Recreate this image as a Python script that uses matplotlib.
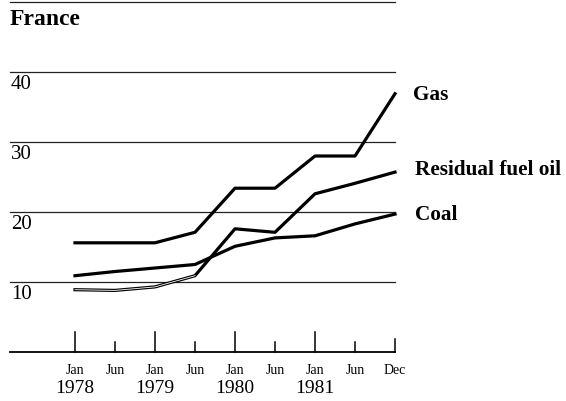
import matplotlib.pyplot as plt

# Data (index 0..8 = Jan78, Jun78, Jan79, Jun79, Jan80, Jun80, Jan81, Jun81, Dec81)
months = ["Jan", "Jun", "Jan", "Jun", "Jan", "Jun", "Jan", "Jun", "Dec"]
years = ["1978", "1979", "1980", "1981"]
gas = [15.6, 15.6, 15.6, 17.1, 23.4, 23.4, 28.0, 28.0, 36.9]
fuel_oil = [8.9, 8.8, 9.3, 10.9, 17.6, 17.1, 22.6, 24.1, 25.7]
coal = [10.9, 11.5, 12.0, 12.5, 15.1, 16.3, 16.6, 18.3, 19.7]
y_ticks = [10, 20, 30, 40]

plt.rcParams['font.family'] = ['Liberation Serif', 'DejaVu Serif']

fig = plt.figure(figsize=(5.66, 4.02), dpi=100)
ax = fig.add_axes([0, 0, 1, 1])
ax.set_xlim(-1.875, 12.275)
ax.set_ylim(-7, 50.43)
ax.axis('off')

x = list(range(len(months)))

# grid lines + top rule
for v in y_ticks + [50]:
    ax.plot([-1.625, 8], [v, v], color='#222222', lw=0.9)
for v in y_ticks:
    ax.text(-1.6, v - 0.35, str(v), fontsize=15, va='top', ha='left')

# x axis
ax.plot([-1.625, 8], [0, 0], color='black', lw=1.3)
for i, m in enumerate(months):
    if m == "Jan":
        h = 2.9
    elif m == "Dec":
        h = 1.8
    else:
        h = 1.45
    ax.plot([i, i], [0, h], color='black', lw=1.1)
    ax.text(i, -1.5, m, fontsize=10, ha='center', va='top')
for j, yr in enumerate(years):
    ax.text(j * 2, -3.8, yr, fontsize=14, ha='center', va='top')

# series
ax.plot(x, gas, color='black', lw=2.3)
ax.plot(x, coal, color='black', lw=2.3)
ax.plot(x, fuel_oil, color='black', lw=2.3)
ax.plot(x[:4], fuel_oil[:4], color='white', lw=0.6)

bold = dict(fontsize=15.3, fontweight='bold', va='center', ha='left')
ax.text(8.45, 36.9, "Gas", **bold)
ax.text(8.5, 26.2, "Residual fuel oil", **bold)
ax.text(8.5, 19.7, "Coal", **bold)

ax.text(-1.625, 47.6, "France", fontsize=17, fontweight='bold', va='center', ha='left')

fig.savefig("out.png", dpi=100)
